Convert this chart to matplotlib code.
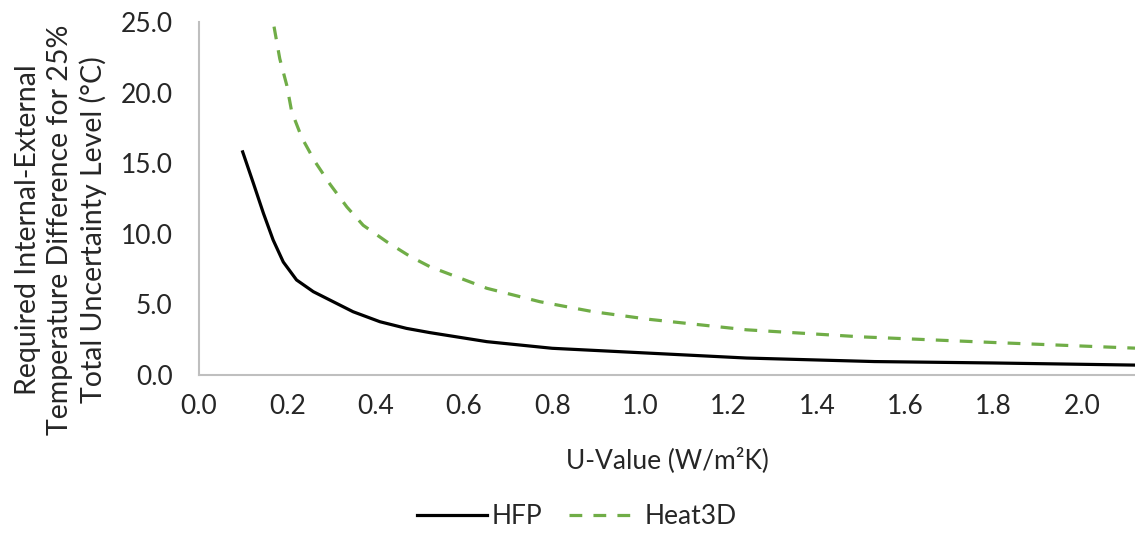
import matplotlib
matplotlib.use("Agg")
import matplotlib.pyplot as plt
from matplotlib.lines import Line2D

plt.rcParams['font.family'] = ['Lato', 'DejaVu Sans']

# values
hfp_u = [0.099, 0.123, 0.146, 0.168, 0.191, 0.221, 0.259, 0.297, 0.349, 0.41, 0.47,
         0.523, 0.652, 0.80, 1.03, 1.24, 1.53, 1.80, 2.12]
hfp_dt = [15.8, 13.6, 11.45, 9.56, 8.0, 6.73, 5.9, 5.3, 4.48, 3.77, 3.3,
          3.0, 2.36, 1.89, 1.53, 1.2, 0.95, 0.85, 0.7]

heat3d_u = [0.17, 0.183, 0.199, 0.21, 0.233, 0.263, 0.297, 0.335, 0.372, 0.425, 0.478,
            0.523, 0.652, 0.772, 0.893, 1.02, 1.24, 1.50, 1.80, 2.12]
heat3d_dt = [24.67, 22.4, 20.5, 18.65, 16.8, 15.1, 13.5, 11.9, 10.6, 9.44, 8.4,
             7.67, 6.14, 5.19, 4.48, 3.94, 3.2, 2.7, 2.3, 1.9]

x_ticks = [0.0, 0.2, 0.4, 0.6, 0.8, 1.0, 1.2, 1.4, 1.6, 1.8, 2.0]
y_ticks = [0.0, 5.0, 10.0, 15.0, 20.0, 25.0]

green = '#70ad47'
text_col = '#262626'

fig = plt.figure(figsize=(11.35, 5.44), dpi=100)
ax = fig.add_axes([0.1753, 0.3107, 0.8247, 0.6489])

ax.plot(hfp_u, hfp_dt, color='black', lw=2.3, solid_joinstyle='round')
ax.plot(heat3d_u, heat3d_dt, color=green, lw=2.3, dashes=(4, 3.5))

ax.set_xlim(0, 2.12)
ax.set_ylim(0, 25)
ax.set_xticks(x_ticks)
ax.set_xticklabels(['%.1f' % v for v in x_ticks])
ax.set_yticks(y_ticks)
ax.set_yticklabels(['%.1f' % v for v in y_ticks])
ax.tick_params(length=0, labelsize=19, colors=text_col)
ax.tick_params(axis='x', pad=14)
ax.tick_params(axis='y', pad=19)

for s in ['top', 'right']:
    ax.spines[s].set_visible(False)
for s in ['left', 'bottom']:
    ax.spines[s].set_color('#bfbfbf')
    ax.spines[s].set_linewidth(1.5)

ax.set_xlabel('U-Value (W/m²K)', fontsize=19, color=text_col, labelpad=20)

fig.text(61 / 1135, 1 - 230 / 544,
         'Required Internal-External\nTemperature Difference for 25%\nTotal Uncertainty Level (°C)',
         rotation=90, ha='center', va='center', multialignment='center',
         fontsize=20.5, color=text_col, linespacing=1.3)

handles = [Line2D([], [], color='black', lw=2.3),
           Line2D([], [], color=green, lw=2.3, dashes=(4, 3.5))]
fig.legend(handles, ['HFP', 'Heat3D'], loc='center', bbox_to_anchor=(0.508, 0.05),
           ncol=2, frameon=False, fontsize=19, handlelength=2.65,
           handletextpad=0.2, columnspacing=1.0, labelcolor=text_col)

fig.savefig('out.png', dpi=100)
